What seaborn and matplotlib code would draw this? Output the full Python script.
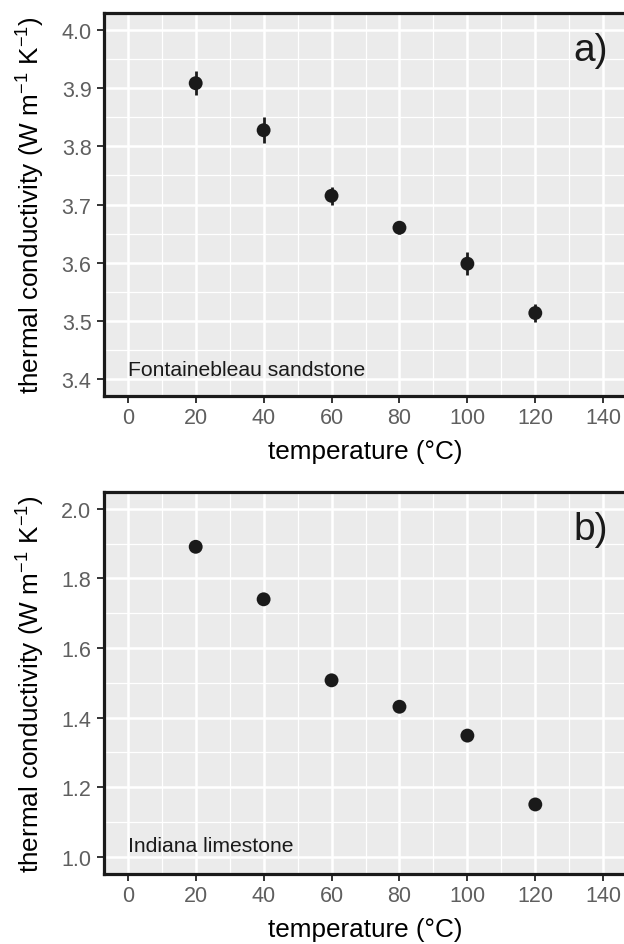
import matplotlib
matplotlib.use("Agg")
import matplotlib.pyplot as plt
import seaborn as sns
import pandas as pd
from matplotlib.ticker import MultipleLocator, FixedLocator

# ---------------- data ----------------
temperature = [20, 40, 60, 80, 100, 120]
k_fontainebleau = [3.909, 3.828, 3.715, 3.660, 3.598, 3.513]
err_fontainebleau = [0.021, 0.022, 0.016, 0.011, 0.020, 0.016]
k_indiana = [1.891, 1.740, 1.507, 1.431, 1.348, 1.150]
err_indiana = [0.008, 0.006, 0.008, 0.006, 0.007, 0.007]

x_ticks = [0, 20, 40, 60, 80, 100, 120, 140]
y_ticks_a = [3.4, 3.5, 3.6, 3.7, 3.8, 3.9, 4.0]
y_ticks_b = [1.0, 1.2, 1.4, 1.6, 1.8, 2.0]
rock_names = ["Fontainebleau sandstone", "Indiana limestone"]
panel_tags = ["a)", "b)"]
x_title = "temperature (°C)"
y_title = r"thermal conductivity (W m$^{-1}$ K$^{-1}$)"

# ---------------- style ----------------
sns.set_theme(style="darkgrid")
plt.rcParams["font.family"] = ["Liberation Sans", "DejaVu Sans"]
plt.rcParams["mathtext.fontset"] = "custom"
plt.rcParams["mathtext.rm"] = "Liberation Sans"
plt.rcParams["mathtext.it"] = "Liberation Sans:italic"
plt.rcParams["mathtext.bf"] = "Liberation Sans:bold"

DARK = "#1a1a1a"
PANEL_BG = "#EBEBEB"
TICK_TXT = "#5f5f5f"

fig = plt.figure(figsize=(6.24, 9.45), dpi=100)
W, H = 624, 945
left_px, right_px = 104, 627

def make_axes(top_px, bottom_px):
    return fig.add_axes([left_px / W, 1 - bottom_px / H,
                         (right_px - left_px) / W, (bottom_px - top_px) / H])

ax_a = make_axes(14, 397)
ax_b = make_axes(492.5, 875)

panels = [
    (ax_a, k_fontainebleau, err_fontainebleau, y_ticks_a, (3.37, 4.03), 0.05, 3.416),
    (ax_b, k_indiana, err_indiana, y_ticks_b, (0.95, 2.05), 0.1, 1.033),
]

for i, (ax, k, err, yt, ylim, yminor, text_y) in enumerate(panels):
    df = pd.DataFrame({"temperature": temperature, "k": k, "err": err})
    ax.set_facecolor(PANEL_BG)
    ax.errorbar(df["temperature"], df["k"], yerr=df["err"], fmt="none",
                ecolor=DARK, elinewidth=2.0, capsize=0, zorder=3)
    sns.scatterplot(data=df, x="temperature", y="k", ax=ax, s=100,
                    color=DARK, edgecolor="none", linewidth=0, zorder=4,
                    legend=False)
    ax.set_xlim(-7, 147)
    ax.set_ylim(*ylim)
    ax.xaxis.set_major_locator(FixedLocator(x_ticks))
    ax.yaxis.set_major_locator(FixedLocator(yt))
    ax.xaxis.set_minor_locator(MultipleLocator(10))
    ax.yaxis.set_minor_locator(MultipleLocator(yminor))
    ax.set_xticklabels([str(v) for v in x_ticks])
    ax.set_yticklabels([f"{v:.1f}" for v in yt])
    ax.grid(which="major", color="white", linewidth=1.8)
    ax.grid(which="minor", color="white", linewidth=0.9)
    ax.set_axisbelow(True)
    ax.tick_params(which="major", direction="out", length=5, width=1.4,
                   color="#333333", labelcolor=TICK_TXT, labelsize=15.5,
                   bottom=True, left=True)
    ax.tick_params(axis="x", which="major", pad=3)
    ax.tick_params(axis="y", which="major", pad=4)
    ax.tick_params(which="minor", length=0)
    for sp in ax.spines.values():
        sp.set_visible(True)
        sp.set_color(DARK)
        sp.set_linewidth(2.3)
    ax.set_xlabel(x_title, fontsize=18.8, color="black")
    ax.set_ylabel(y_title, fontsize=18.8, color="black")
    ax.xaxis.set_label_coords(0.5, -0.1437)
    ax.xaxis.label.set_va("center")
    ax.yaxis.set_label_coords(-0.109, 0.5)
    ax.text(0, text_y, rock_names[i], ha="left", va="center",
            fontsize=15.2, color=DARK)
    ax.text(0.9637, 0.903, panel_tags[i], transform=ax.transAxes,
            ha="right", va="center", fontsize=28, color=DARK)

fig.savefig("out.png", dpi=100)
